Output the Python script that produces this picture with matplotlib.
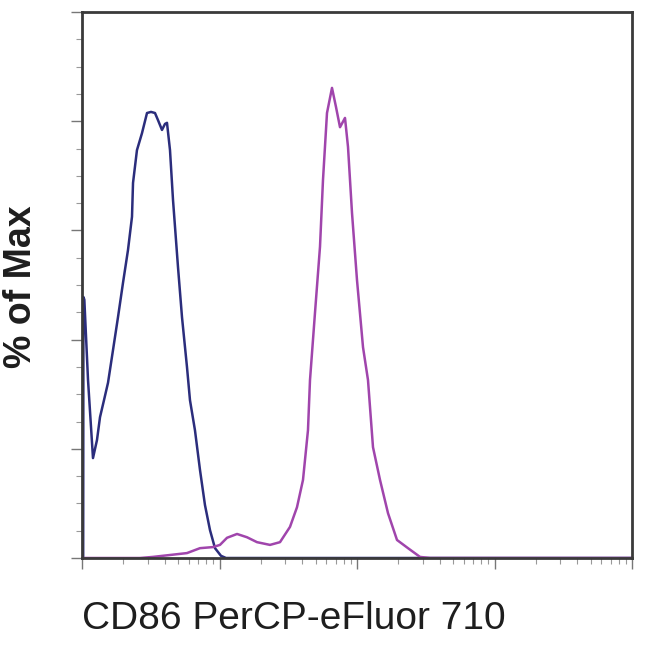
import numpy as np
import matplotlib
matplotlib.use("Agg")
from matplotlib import pyplot as plt
from matplotlib.ticker import LogLocator, MultipleLocator, NullFormatter

# blue histogram (unstained / isotype), x in fluorescence units, y in % of max
blue_x = [102.0, 102.4, 104.0, 110.6, 120.2, 128.5, 135.2, 144.5, 154.6, 168.1,
          182.7, 198.7, 216, 231, 235, 251, 273, 297, 317.6, 339.5,
          357, 381.7, 401.4, 415.1, 436.5, 459, 499, 533.7, 580, 610,
          663, 721.5, 784, 853, 927.5, 1025, 1115, 1000000]
blue_y = [0, 47.8, 47.3, 32.6, 18.3, 21.6, 25.8, 28.9, 32.1, 38.1,
          44.1, 50.4, 56.4, 62.5, 68.7, 74.7, 77.8, 81.5, 81.7, 81.5,
          80.2, 78.4, 79.5, 79.7, 74.7, 65.6, 53.3, 44.1, 35.0, 28.9,
          23.4, 16.1, 9.7, 5.1, 1.8, 0.4, 0, 0]

# magenta histogram (CD86 stained)
mag_x = [100, 264, 328, 580, 721, 897, 1008, 1134, 1341, 1585,
         1874, 2329, 2754, 3256, 3661, 4048, 4400, 4552, 4948, 5381,
         5657, 6050, 6579, 7035, 7523, 8179, 8601, 9197, 10000, 11060,
         12020, 13070, 14700, 16810, 19540, 23490, 28720, 33950, 1000000]
mag_y = [0, 0, 0.2, 0.9, 1.8, 2.0, 2.4, 3.7, 4.4, 3.8,
         2.9, 2.4, 2.9, 5.7, 9.3, 14.3, 23.4, 32.6, 44.9, 57.0,
         69.2, 81.5, 86.1, 82.6, 78.9, 80.6, 75.3, 63.2, 50.9, 38.6,
         32.6, 20.3, 14.3, 8.2, 3.3, 1.8, 0.2, 0, 0]

x_label = "CD86 PerCP-eFluor 710"
y_label = "% of Max"

plt.rcParams['font.family'] = ['Liberation Sans', 'DejaVu Sans']

fig = plt.figure(figsize=(6.5, 6.5), dpi=100)
ax = fig.add_axes([82/650, 92/650, 550/650, 546/650])

ax.plot(blue_x, blue_y, color='#2b2d7c', lw=1.8)
ax.plot(mag_x, mag_y, color='#a045ac', lw=1.8)

ax.set_xscale('log')
ax.set_xlim(100, 1e6)
ax.set_ylim(0, 100)

ax.xaxis.set_major_locator(LogLocator(base=10, numticks=10))
ax.xaxis.set_minor_locator(LogLocator(base=10, subs=np.arange(2, 10), numticks=20))
ax.xaxis.set_major_formatter(NullFormatter())
ax.xaxis.set_minor_formatter(NullFormatter())
ax.yaxis.set_major_locator(MultipleLocator(20))
ax.yaxis.set_minor_locator(MultipleLocator(5))
ax.yaxis.set_major_formatter(NullFormatter())

ax.tick_params(which='major', length=8, width=1.0, color='#777777', direction='out')
ax.tick_params(which='minor', length=4, width=0.8, color='#999999', direction='out')

for s in ax.spines.values():
    s.set_color('#3a3a3a')
    s.set_linewidth(2)

fig.text(294/650, 1 - 619/650, x_label, fontsize=28, color='#1e1e1e',
         ha='center', va='center')
fig.text(21/650, 1 - 287/650, y_label, fontsize=27, color='#1e1e1e',
         ha='center', va='center', rotation=90, fontweight='bold')

plt.savefig("out.png", dpi=100)
